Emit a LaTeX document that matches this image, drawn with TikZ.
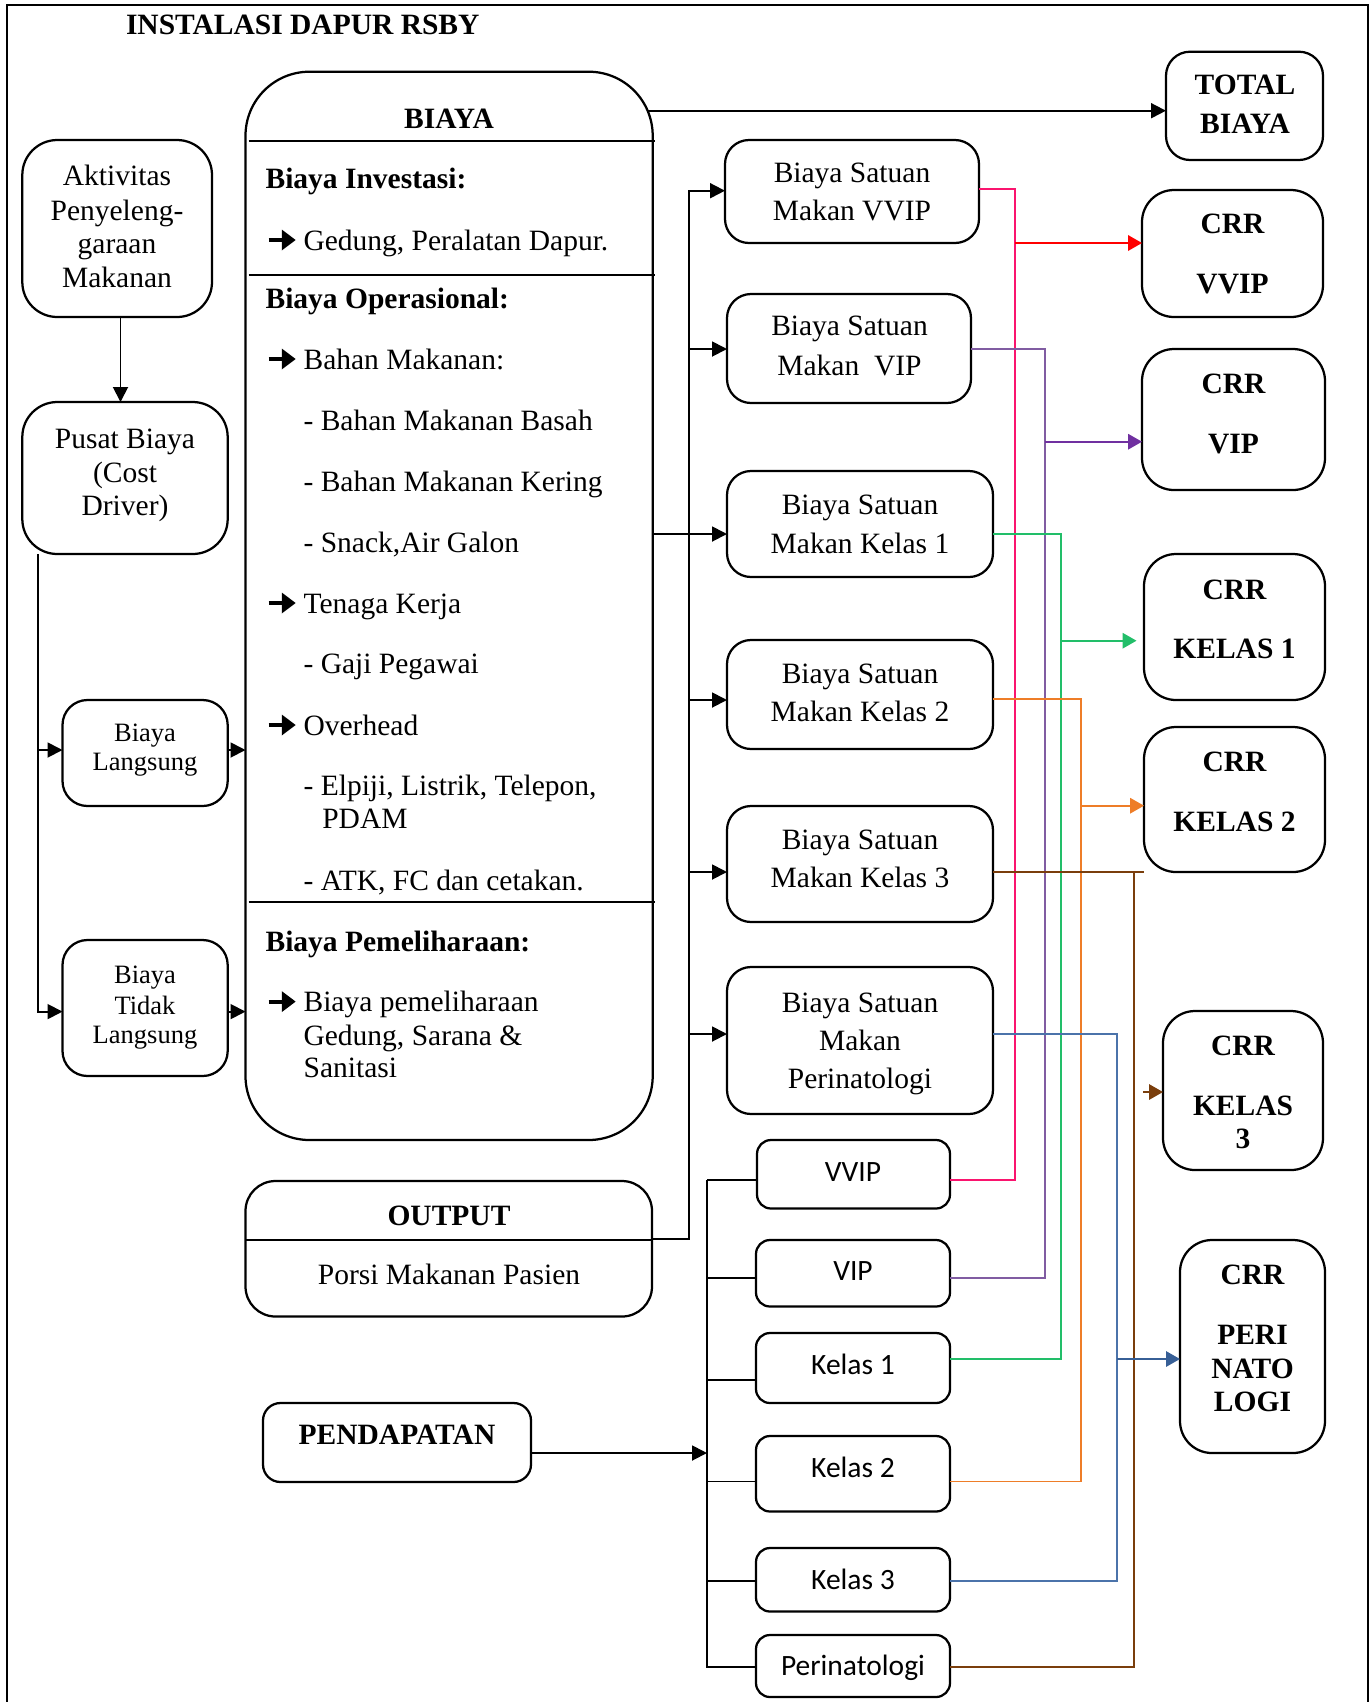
\documentclass[tikz,border=0pt]{standalone}
\usepackage{fontspec}
\setmainfont{Liberation Serif}
\newfontfamily\calfont{Carlito}
\usetikzlibrary{arrows.meta}

\definecolor{lnpink}{RGB}{250,20,110}
\definecolor{lnred}{RGB}{255,0,0}
\definecolor{lnpurple}{RGB}{128,92,162}
\definecolor{arpurple}{RGB}{112,48,160}
\definecolor{lngreen}{RGB}{34,190,105}
\definecolor{lnorange}{RGB}{238,125,40}
\definecolor{lnbrown}{RGB}{122,62,12}
\definecolor{lnblue}{RGB}{75,115,170}
\definecolor{arblue}{RGB}{55,95,150}

% rounded box: name, x1, y1, x2, y2, corner radius
\newcommand\rbox[6]{%
  \node[box,rounded corners=#6,minimum width={(#4-#2)*0.4pt},
        minimum height={(#5-#3)*0.4pt}] (#1) at ({(#2+#4)/2},{(#3+#5)/2}) {};}
% heavy arrow bullet followed by a fixed indent
\newcommand\bul{\makebox[14.84pt][l]{\tikz[baseline=0pt,x=1pt,y=1pt]
  \draw[line width=1.6pt,-{Triangle[length=5.6pt,width=8pt]}]
    (0.3,4) -- (11.2,4);}}

\begin{document}
\begin{tikzpicture}[x=0.4pt,y=-0.4pt,
  every node/.style={inner sep=0pt,outer sep=0pt},
  box/.style={draw,line width=0.9pt},
  ln/.style={line width=0.75pt},
  arr/.style={ln,-{Triangle[length=6pt,width=6pt]}},
  cl/.style={line width=0.65pt},
  carr/.style={cl,-{Triangle[length=5.6pt,width=6.2pt]}},
  tx/.style={anchor=base,font=\fontsize{11.8}{14}\selectfont},
  txl/.style={anchor=base west,font=\fontsize{11.8}{14}\selectfont},
  tb/.style={anchor=base,font=\fontsize{11.8}{14}\selectfont\bfseries},
  tbl/.style={anchor=base west,font=\fontsize{11.8}{14}\selectfont\bfseries},
  tsm/.style={anchor=base,font=\fontsize{10.6}{12}\selectfont},
  tcal/.style={anchor=base,font=\fontsize{11.8}{14}\calfont},
]
\useasboundingbox (0,0) rectangle (1371,1702);
\fill[white] (0,0) rectangle (1371,1702);

% outer frame
\draw[line width=0.9pt] (6.7,1702) -- (6.7,5) -- (1368,5) -- (1368,1702);

\node[tbl] (tTitle) at (126,34) {INSTALASI DAPUR RSBY};

% ---------- boxes ----------
\rbox{aktiv}{22.3}{140}{212}{317}{14pt}
\rbox{pusat}{22.3}{402}{227.7}{554}{14pt}
\rbox{langsung}{62.5}{700}{227.7}{806}{10pt}
\rbox{tidak}{62.5}{940}{227.7}{1076}{10pt}
\rbox{biaya}{245.5}{71.7}{652.7}{1140}{25.6pt}
\rbox{output}{245.5}{1181}{652}{1316.5}{12pt}
\rbox{pend}{263}{1403}{531}{1482}{7pt}
\rbox{total}{1166}{51.7}{1323}{160}{9.6pt}
\rbox{bsvvip}{725}{140}{979}{243}{9.6pt}
\rbox{bsvip}{727}{294}{971}{403}{9.6pt}
\rbox{bsk1}{727}{471}{993}{577}{9.6pt}
\rbox{bsk2}{727}{640}{993}{749}{9.6pt}
\rbox{bsk3}{727}{806}{993}{922}{9.6pt}
\rbox{bsperi}{727}{967}{993}{1114}{9.6pt}
\rbox{crrvvip}{1142}{190}{1323}{317}{12.8pt}
\rbox{crrvip}{1142}{349}{1325}{490}{12.8pt}
\rbox{crrk1}{1144}{554}{1325}{700}{12.8pt}
\rbox{crrk2}{1144}{727}{1325}{872}{12.8pt}
\rbox{crrk3}{1163}{1011}{1323}{1170}{12.8pt}
\rbox{crrperi}{1180}{1240}{1325}{1453}{12.8pt}
\rbox{svvip}{757}{1140}{950}{1208.5}{5.6pt}
\rbox{svip}{756}{1240}{950}{1306.5}{5.6pt}
\rbox{sk1}{756}{1333}{950}{1403}{5.6pt}
\rbox{sk2}{756}{1436}{950}{1511.5}{5.6pt}
\rbox{sk3}{756}{1548}{950}{1611.5}{5.6pt}
\rbox{speri}{756}{1635}{950}{1697}{5.6pt}

% section rules inside BIAYA and OUTPUT
\draw[line width=0.9pt] (248.7,140.7) -- (655,140.7);
\draw[line width=0.9pt] (248.7,275) -- (655,275);
\draw[line width=0.9pt] (248.7,902) -- (655,902);
\coordinate (yOd) at (0,1240);
\draw[line width=0.9pt] (output.west |- yOd) -- (output.east |- yOd);

% ---------- texts ----------
\node[tx] (tAk1) at (117,185) {Aktivitas};
\node[tx] (tAk2) at (117,220) {Penyeleng-};
\node[tx] (tAk3) at (117,253) {garaan};
\node[tx] (tAk4) at (117,287) {Makanan};

\node[tx] (tPu1) at (125,448) {Pusat Biaya};
\node[tx] (tPu2) at (125,482.6) {(Cost};
\node[tx] (tPu3) at (125,515) {Driver)};

\node[tsm] (tLa1) at (145,741.5) {Biaya};
\node[tsm] (tLa2) at (145,770.5) {Langsung};
\node[tsm] (tTi1) at (145,983) {Biaya};
\node[tsm] (tTi2) at (145,1014) {Tidak};
\node[tsm] (tTi3) at (145,1043) {Langsung};

\node[tb] (tBiaya) at (449,128) {BIAYA};
\node[tbl] (tInv) at (265.6,188) {Biaya Investasi:};
\node[txl] (tInv1) at (266.5,250) {\bul Gedung, Peralatan Dapur.};
\node[tbl] (tOps) at (265.6,308) {Biaya Operasional:};
\node[txl] (tOps1) at (266.5,369) {\bul Bahan Makanan:};
\node[txl] (tOps2) at (303.6,430) {- Bahan Makanan Basah};
\node[txl] (tOps3) at (303.6,491.5) {- Bahan Makanan Kering};
\node[txl] (tOps4) at (303.6,552) {- Snack,Air Galon};
\node[txl] (tOps5) at (266.5,613) {\bul Tenaga Kerja};
\node[txl] (tOps6) at (303.6,673) {- Gaji Pegawai};
\node[txl] (tOps7) at (266.5,735) {\bul Overhead};
\node[txl] (tOps8) at (303.6,795) {- Elpiji, Listrik, Telepon,};
\node[txl] (tOps9) at (322.3,828.6) {PDAM};
\node[txl] (tOps10) at (303.6,890) {- ATK, FC dan cetakan.};
\node[tbl] (tPem) at (265.6,951) {Biaya Pemeliharaan:};
\node[txl] (tPem1) at (266.5,1011.6) {\bul Biaya pemeliharaan};
\node[txl] (tPem2) at (303.6,1045) {Gedung, Sarana \&};
\node[txl] (tPem3) at (303.6,1077) {Sanitasi};

\node[tb] (tOut) at (449,1225) {OUTPUT};
\node[tx] (tOut1) at (449,1284.6) {Porsi Makanan Pasien};
\node[tb] (tPend) at (397,1444) {PENDAPATAN};

\node[tb] (tTot1) at (1245,94) {TOTAL};
\node[tb] (tTot2) at (1245,133) {BIAYA};

\node[tx] (tBv1) at (852,182) {Biaya Satuan};
\node[tx] (tBv2) at (852,220) {Makan VVIP};
\node[tx] (tBi1) at (849.5,335) {Biaya Satuan};
\node[tx] (tBi2) at (849.5,375) {Makan\ \ VIP};
\node[tx] (tB11) at (860,514) {Biaya Satuan};
\node[tx] (tB12) at (860,553) {Makan Kelas 1};
\node[tx] (tB21) at (860,683) {Biaya Satuan};
\node[tx] (tB22) at (860,721) {Makan Kelas 2};
\node[tx] (tB31) at (860,849) {Biaya Satuan};
\node[tx] (tB32) at (860,887) {Makan Kelas 3};
\node[tx] (tBp1) at (860,1012) {Biaya Satuan};
\node[tx] (tBp2) at (860,1050) {Makan};
\node[tx] (tBp3) at (860,1088) {Perinatologi};

\node[tb] (tCv1) at (1232.5,233) {CRR};
\node[tb] (tCv2) at (1232.5,293) {VVIP};
\node[tb] (tCi1) at (1233.5,393) {CRR};
\node[tb] (tCi2) at (1233.5,453) {VIP};
\node[tb] (tC11) at (1234.5,599) {CRR};
\node[tb] (tC12) at (1234.5,658) {KELAS 1};
\node[tb] (tC21) at (1234.5,771) {CRR};
\node[tb] (tC22) at (1234.5,831) {KELAS 2};
\node[tb] (tC31) at (1243,1055) {CRR};
\node[tb] (tC32) at (1243,1115) {KELAS};
\node[tb] (tC33) at (1243,1148) {3};
\node[tb] (tCp1) at (1252.5,1284) {CRR};
\node[tb] (tCp2) at (1252.5,1344) {PERI};
\node[tb] (tCp3) at (1252.5,1378) {NATO};
\node[tb] (tCp4) at (1252.5,1411) {LOGI};

\node[tcal] (tSv) at (853,1181) {VVIP};
\node[tcal] (tSi) at (853,1280) {VIP};
\node[tcal] (tS1) at (853,1374) {Kelas 1};
\node[tcal] (tS2) at (853,1477) {Kelas 2};
\node[tcal] (tS3) at (853,1589) {Kelas 3};
\node[tcal] (tSp) at (853,1675) {Perinatologi};

% ---------- connector guides ----------
\coordinate (cAP) at (120.5,0);
\coordinate (cLT) at (38,0);
\coordinate (yLang) at (0,750);
\coordinate (yTid) at (0,1011.6);
\coordinate (cTB) at (648,110.7);
\coordinate (cBT) at (689,0);
\coordinate (yOut) at (0,1239);
\coordinate (yBvv) at (0,190.7);
\coordinate (yBvi) at (0,349);
\coordinate (yBk1) at (0,534);
\coordinate (yBk2) at (0,700);
\coordinate (yBk3) at (0,872);
\coordinate (yBpe) at (0,1034);
\coordinate (cST) at (707,0);
\coordinate (yS1) at (0,1180);
\coordinate (yS2) at (0,1278);
\coordinate (yS3k) at (0,1379.6);
\coordinate (yS3g) at (0,1359);
\coordinate (yS4) at (0,1481.5);
\coordinate (yS5) at (0,1581);
\coordinate (yS6) at (0,1667);
\coordinate (yPd) at (0,1453);
\coordinate (yPk) at (0,189);
\coordinate (yOr) at (0,699);
\coordinate (xPink) at (1015,0);
\coordinate (xPur) at (1045,0);
\coordinate (xGrn) at (1061,0);
\coordinate (xOrg) at (1081,0);
\coordinate (xBlu) at (1117,0);
\coordinate (xBrn) at (1134,0);
\coordinate (yRed) at (0,243);
\coordinate (yPurA) at (0,441.7);
\coordinate (yGrnA) at (0,640.7);
\coordinate (yOrgA) at (0,805.7);
\coordinate (yBluA) at (0,1359);
\coordinate (cBrA) at (1143,1092);

% ---------- left flow ----------
\draw[arr] (aktiv.south -| cAP) -- (pusat.north -| cAP);
\draw[arr] (pusat.south -| cLT) |- (tidak.west |- yTid);
\draw[arr] (cLT |- yLang) -- (langsung.west |- yLang);
\draw[arr] (langsung.east |- yLang) -- (biaya.west |- yLang);
\draw[arr] (tidak.east |- yTid) -- (biaya.west |- yTid);

% total cost
\draw[arr] (cTB) -- (total.west |- cTB);

% unit cost per class
\draw[arr] (output.east |- yOut) -| (cBT |- yBvv) -- (bsvvip.west |- yBvv);
\draw[arr] (cBT |- yBvi) -- (bsvip.west |- yBvi);
\draw[arr] (biaya.east |- yBk1) -- (bsk1.west |- yBk1);
\draw[arr] (cBT |- yBk2) -- (bsk2.west |- yBk2);
\draw[arr] (cBT |- yBk3) -- (bsk3.west |- yBk3);
\draw[arr] (cBT |- yBpe) -- (bsperi.west |- yBpe);

% revenue per class
\draw[ln] (cST |- yS1) |- (speri.west |- yS6);
\draw[ln] (cST |- yS1) -- (svvip.west |- yS1);
\draw[ln] (cST |- yS2) -- (svip.west |- yS2);
\draw[ln] (cST |- yS3k) -- (sk1.west |- yS3k);
\draw[ln] (cST |- yS4) -- (sk2.west |- yS4);
\draw[ln] (cST |- yS5) -- (sk3.west |- yS5);
\draw[arr] (pend.east |- yPd) -- (cST |- yPd);

% cost recovery rate links
\draw[cl,lnpink] (bsvvip.east |- yPk) -| (xPink |- yS1) -- (svvip.east |- yS1);
\draw[carr,lnred,line width=0.8pt] (xPink |- yRed) -- (crrvvip.west |- yRed);
\draw[cl,lnpurple] (bsvip.east |- yBvi) -| (xPur |- yS2) -- (svip.east |- yS2);
\draw[carr,arpurple] (xPur |- yPurA) -- (crrvip.west |- yPurA);
\draw[cl,lngreen] (bsk1.east |- yBk1) -| (xGrn |- yS3g) -- (sk1.east |- yS3g);
\draw[carr,lngreen,shorten >=3pt] (xGrn |- yGrnA) -- (crrk1.west |- yGrnA);
\draw[cl,lnorange] (bsk2.east |- yOr) -| (xOrg |- yS4) -- (sk2.east |- yS4);
\draw[carr,lnorange] (xOrg |- yOrgA) -- (crrk2.west |- yOrgA);
\draw[cl,lnbrown] (bsk3.east |- yBk3) -- (crrk2.west |- yBk3);
\draw[cl,lnbrown] (xBrn |- yBk3) |- (speri.east |- yS6);
\draw[carr,lnbrown] (cBrA) -- (crrk3.west |- cBrA);
\draw[cl,lnblue] (bsperi.east |- yBpe) -| (xBlu |- yS5) -- (sk3.east |- yS5);
\draw[carr,arblue] (xBlu |- yBluA) -- (crrperi.west |- yBluA);
\end{tikzpicture}
\end{document}
